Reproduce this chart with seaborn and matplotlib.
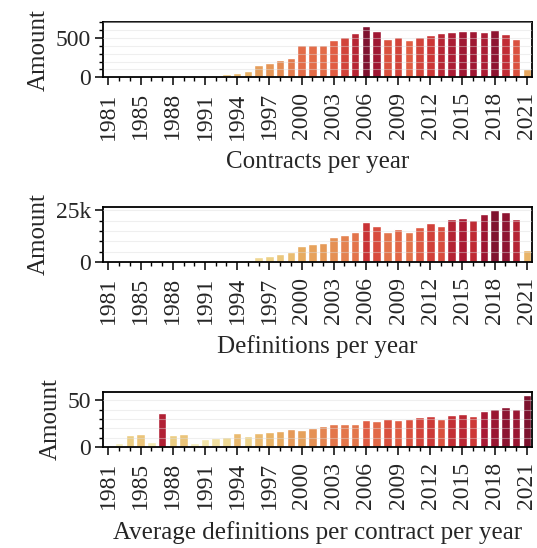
import seaborn as sns
import matplotlib.pyplot as plt
from matplotlib.ticker import MultipleLocator, FuncFormatter

sns.set_style('white')
plt.rcParams['font.family'] = ['Liberation Serif', 'DejaVu Serif']

years = list(range(1982, 2022))
tick_labels = ['1981', '1985', '1988', '1991', '1994', '1997', '2000',
               '2003', '2006', '2009', '2012', '2015', '2018', '2021']

contracts = [0, 0, 1, 0, 1, 1, 2, 3, 5, 13, 12, 41, 56, 80, 158, 184, 222, 248, 414, 414,
             414, 478, 517, 568, 658, 594, 491, 517, 478, 517, 542, 568, 581, 594, 594,
             581, 606, 555, 491, 107]
definitions = [0, 0, 0, 0, 0, 0, 0, 0, 0, 0, 100, 200, 300, 980, 2450, 2940, 3600, 4900,
               7840, 8820, 9310, 12250, 13240, 14700, 19100, 17160, 14700, 15690, 14700,
               16670, 18630, 17160, 20590, 21080, 20100, 23040, 25000, 24020, 20590, 5880]
avg_defs = [1, 4.3, 13, 14, 5.4, 36.7, 13, 14, 4.3, 8.6, 9.7, 10.8, 15.1, 11.9, 15.1,
            16.2, 17.3, 19.4, 18.3, 20.5, 22.7, 24.8, 24.8, 24.8, 29.1, 28.0, 30.2, 29.1,
            30.2, 32.4, 33.5, 30.2, 34.5, 35.6, 33.5, 38.8, 41.0, 43.2, 41.0, 55.0]

panels = [
    (contracts, 'Contracts per year', 500, 100, lambda v, p: f'{v:g}'),
    (definitions, 'Definitions per year', 25000, 5000,
     lambda v, p: f'{v/1000:g}k' if v else '0'),
    (avg_defs, 'Average definitions per contract per year', 50, 10, lambda v, p: f'{v:g}'),
]

fig = plt.figure(figsize=(5.37, 5.48), dpi=100)
bottoms = [0.859, 0.522, 0.184]
for (vals, title, major, minor, fmt), b in zip(panels, bottoms):
    ax = fig.add_axes([0.192, b, 0.799, 0.101])
    # colours by rank of value
    uniq = sorted(set(vals))
    pal = dict(zip(uniq, sns.color_palette('YlOrRd', len(uniq))))
    sns.barplot(x=years, y=vals, hue=vals, palette=pal,
                legend=False, ax=ax, width=0.8)
    ax.set_xlim(-0.5, len(vals) - 0.5)
    ax.set_ylim(0, max(vals) * 1.07)
    ax.yaxis.set_major_locator(MultipleLocator(major))
    ax.yaxis.set_minor_locator(MultipleLocator(minor))
    ax.yaxis.set_major_formatter(FuncFormatter(fmt))
    major_pos = list(range(0, 39, 3)) + [39]
    ax.set_xticks(major_pos)
    ax.set_xticklabels(tick_labels, rotation=90)
    ax.set_xticks([i for i in range(40) if i not in major_pos], minor=True)
    ax.grid(axis='y', which='both', color='#dddddd', lw=0.8, alpha=0.45)
    ax.set_axisbelow(False)
    ax.tick_params(axis='both', which='major', direction='out', length=5.8, width=1.1,
                   labelsize=17, color='black', bottom=True, left=True, pad=3)
    ax.tick_params(axis='x', which='major', pad=5)
    ax.tick_params(axis='both', which='minor', direction='out', length=3.2, width=1.0,
                   color='black', bottom=True, left=True)
    for s in ax.spines.values():
        s.set_color('black')
        s.set_linewidth(1.3)
    ax.set_ylabel('Amount', fontsize=18, labelpad=4)
    ax.set_xlabel(title, fontsize=18, labelpad=8)

fig.savefig('out.png', dpi=100)
